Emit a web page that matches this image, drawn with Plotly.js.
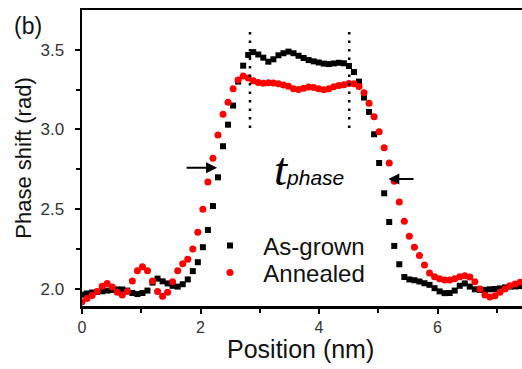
<!DOCTYPE html>
<html>
<head>
<meta charset="utf-8">
<script src="https://cdn.plot.ly/plotly-3.0.1.min.js"></script>
<style>
  html, body { margin: 0; padding: 0; background: #fff; }
  #chart { width: 522px; height: 369px; }
</style>
</head>
<body>
<div id="chart"></div>
<script>
// Line-profile positions across the layer (nm)
const positionNm = [0,0.085,0.17,0.255,0.34,0.425,0.51,0.595,0.68,0.765,0.85,0.935,1.02,1.105,1.19,1.275,1.36,1.445,1.53,1.615,1.7,1.785,1.87,1.955,2.04,2.125,2.21,2.295,2.38,2.465,2.55,2.635,2.72,2.805,2.89,2.975,3.06,3.145,3.23,3.315,3.4,3.485,3.57,3.655,3.74,3.825,3.91,3.995,4.08,4.165,4.25,4.335,4.42,4.505,4.59,4.675,4.76,4.845,4.93,5.015,5.1,5.185,5.27,5.355,5.44,5.525,5.61,5.695,5.78,5.865,5.95,6.035,6.12,6.205,6.29,6.375,6.46,6.545,6.63,6.715,6.8,6.885,6.97,7.055,7.14,7.225,7.31,7.395];

// Phase shift (rad), as-grown sample
const asGrown = [1.965,1.972,1.978,1.982,1.986,1.99,1.994,1.997,1.997,1.99,
  1.975,1.968,1.975,1.99,2.04,2.065,2.048,2.035,2.02,2.015,
  2.03,2.06,2.112,2.168,2.262,2.37,2.52,2.70,2.895,3.03,
  3.15,3.30,3.40,3.467,3.485,3.47,3.45,3.425,3.44,3.465,
  3.478,3.488,3.478,3.462,3.448,3.435,3.427,3.42,3.413,3.41,
  3.414,3.418,3.415,3.398,3.36,3.30,3.20,3.11,2.97,2.79,
  2.60,2.42,2.27,2.155,2.075,2.06,2.055,2.047,2.036,2.026,
  2.005,1.985,1.974,1.975,1.99,2.02,2.035,2.015,1.998,1.994,
  1.995,1.998,2.0,2.004,2.01,2.015,2.016,2.018];

// Phase shift (rad), annealed sample
const annealed = [1.92,1.94,1.96,1.985,2.017,2.035,2.012,1.98,1.962,1.985,
  2.05,2.115,2.14,2.115,2.05,1.985,1.955,1.98,2.045,2.115,
  2.158,2.187,2.25,2.355,2.50,2.67,2.82,2.965,3.095,3.17,
  3.255,3.31,3.335,3.322,3.305,3.295,3.29,3.293,3.292,3.287,
  3.279,3.271,3.255,3.25,3.258,3.267,3.263,3.255,3.249,3.255,
  3.268,3.276,3.28,3.288,3.287,3.27,3.23,3.165,3.08,2.985,
  2.885,2.79,2.675,2.545,2.425,2.33,2.262,2.21,2.15,2.10,
  2.077,2.065,2.057,2.057,2.065,2.077,2.083,2.075,2.045,2.0,
  1.963,1.95,1.958,1.98,2.0,2.02,2.032,2.043];

// Edges of the phase plateau (dotted markers) and their vertical extent
const plateauEdges = [2.835, 4.51];
const edgeSpan = [3.01, 3.64];

// Width arrows: [tailX, headX, y]
const leftArrow = [1.74, 2.28, 2.76];
const rightArrow = [5.62, 5.17, 2.69];

const xTicks = [0, 2, 4, 6];
const yTicks = [2.0, 2.5, 3.0, 3.5];
const yTickText = ['2.0', '2.5', '3.0', '3.5'];

const FONT = 'Liberation Sans, Arial, sans-serif';
const NBSP = '\u00a0\u00a0';

const traces = [
  {
    x: positionNm, y: asGrown, type: 'scatter', mode: 'markers',
    name: NBSP + 'As-grown', legend: 'legend',
    marker: { symbol: 'square', size: 6, color: '#000' }
  },
  {
    x: positionNm, y: annealed, type: 'scatter', mode: 'markers',
    name: NBSP + 'Annealed', legend: 'legend2',
    marker: { symbol: 'circle', size: 7, color: '#f00' }
  }
];

const shapes = plateauEdges.map(x => ({
  type: 'line', xref: 'x', yref: 'y',
  x0: x, x1: x, y0: edgeSpan[0], y1: edgeSpan[1],
  line: { color: '#000', width: 2.5, dash: '2.5px,6px' }
}));

function arrow(a) {
  return {
    xref: 'x', yref: 'y', axref: 'x', ayref: 'y',
    x: a[1], y: a[2], ax: a[0], ay: a[2],
    text: '', showarrow: true, arrowhead: 2, arrowsize: 1.1,
    arrowwidth: 2, arrowcolor: '#000', standoff: 0, startstandoff: 0
  };
}

const annotations = [
  arrow(leftArrow),
  arrow(rightArrow),
  {
    xref: 'x', yref: 'y', x: 3.83, y: 2.75, showarrow: false,
    xanchor: 'center', yanchor: 'middle',
    text: "<i><span style=\"font-family:'Liberation Serif',serif;font-size:47px\">t</span>phase</i>",
    font: { family: FONT, size: 21, color: '#000' }
  },
  {
    xref: 'paper', yref: 'paper', x: -0.1227, y: 0.946,
    xanchor: 'center', yanchor: 'middle', showarrow: false,
    text: '(b)', font: { family: FONT, size: 23, color: '#111' }
  },
  {
    // x-axis title
    xref: 'paper', yref: 'paper', x: 0.4977, y: -0.145,
    xanchor: 'center', yanchor: 'middle', showarrow: false,
    text: 'Position (nm)', font: { family: FONT, size: 25, color: '#111' }
  }
];

const legendStyle = (y) => ({
  x: 0.2909, y: y, xanchor: 'left', yanchor: 'middle',
  bgcolor: 'rgba(0,0,0,0)', borderwidth: 0,
  font: { family: FONT, size: 24, color: '#111' }
});

const layout = {
  width: 522, height: 369,
  margin: { l: 82, r: 0, t: 10, b: 63, pad: 0 },
  paper_bgcolor: '#fff', plot_bgcolor: '#fff',
  showlegend: true,
  legend: legendStyle(0.2027),
  legend2: legendStyle(0.1115),
  xaxis: {
    range: [0, 7.426], showgrid: false, zeroline: false,
    showline: true, linecolor: '#000', linewidth: 2.5, mirror: true,
    ticks: 'outside', ticklen: 5, tickwidth: 2, tickcolor: '#000',
    tickvals: xTicks, ticktext: xTicks.map(String),
    minor: { tickvals: [1, 3, 5, 7], ticks: 'outside', ticklen: 4, tickwidth: 2, tickcolor: '#000' },
    tickfont: { family: FONT, size: 16, color: '#333' }
  },
  yaxis: {
    range: [1.8934, 3.749], showgrid: false, zeroline: false,
    showline: true, linecolor: '#000', linewidth: 2.5, mirror: false,
    ticks: 'outside', ticklen: 5, tickwidth: 2, tickcolor: '#000',
    ticklabelstandoff: 7,
    tickvals: yTicks, ticktext: yTickText,
    minor: { tickvals: [2.25, 2.75, 3.25], ticks: 'outside', ticklen: 4, tickwidth: 2, tickcolor: '#000' },
    tickfont: { family: FONT, size: 17, color: '#333' },
    title: { text: 'Phase shift (rad)', font: { family: FONT, size: 22, color: '#111' }, standoff: 3 }
  },
  shapes: shapes,
  annotations: annotations
};

Plotly.newPlot('chart', traces, layout, { displayModeBar: false, staticPlot: true });
</script>
</body>
</html>
